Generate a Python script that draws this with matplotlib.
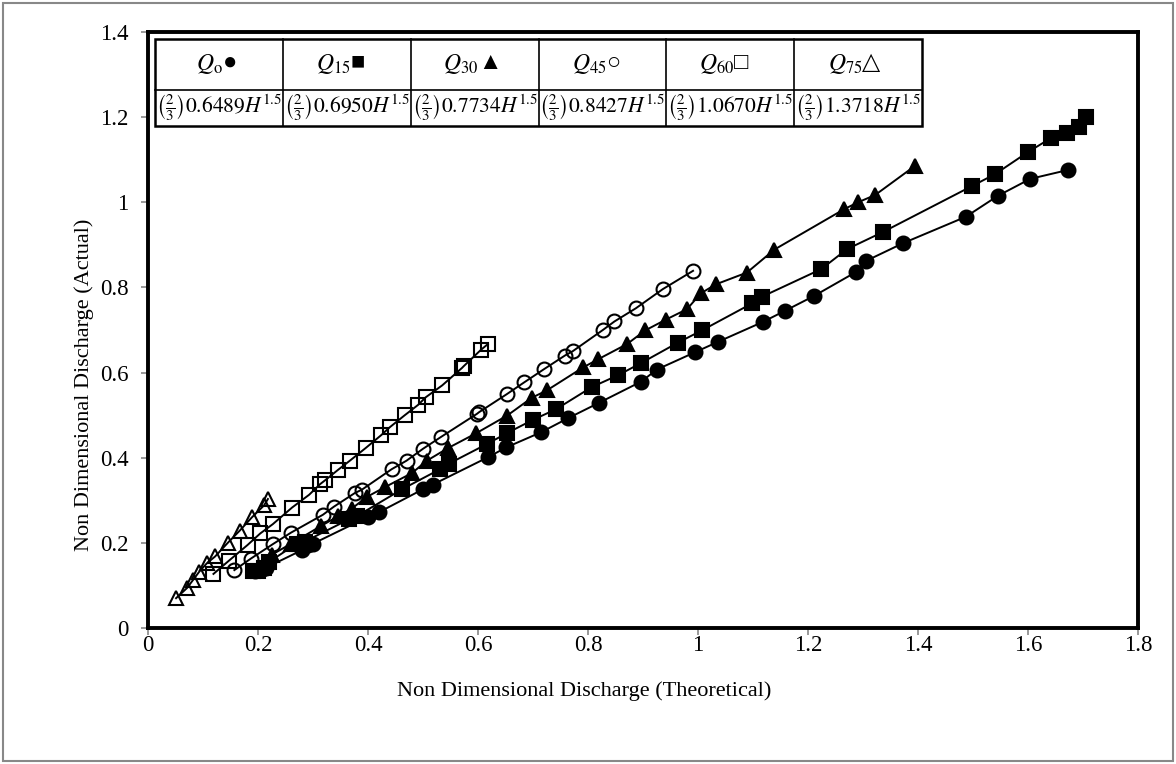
import matplotlib
matplotlib.use("Agg")
import matplotlib.pyplot as plt
from matplotlib.patches import Rectangle
from matplotlib.lines import Line2D

plt.rcParams['font.family'] = ['Liberation Serif', 'DejaVu Sans']
plt.rcParams['mathtext.fontset'] = 'stix'

# Q0 - filled circles
q0_x = [0.195, 0.205, 0.215, 0.28, 0.29, 0.30, 0.40, 0.42, 0.50, 0.518, 0.618, 0.651, 0.715, 0.764,
        0.82, 0.897, 0.925, 0.995, 1.036, 1.118, 1.158, 1.211, 1.287, 1.305, 1.373, 1.487, 1.545,
        1.604, 1.673]
q0_y = [0.133, 0.136, 0.142, 0.183, 0.195, 0.198, 0.261, 0.272, 0.326, 0.337, 0.401, 0.424, 0.460,
        0.493, 0.529, 0.579, 0.607, 0.648, 0.672, 0.719, 0.745, 0.780, 0.836, 0.862, 0.904, 0.966,
        1.015, 1.055, 1.076]

# Q15 - filled squares
q15_x = [0.19, 0.20, 0.21, 0.22, 0.27, 0.285, 0.365, 0.38, 0.462, 0.531, 0.547, 0.616, 0.653, 0.70,
         0.742, 0.807, 0.855, 0.896, 0.963, 1.007, 1.099, 1.116, 1.224, 1.271, 1.336, 1.498, 1.54,
         1.60, 1.642, 1.671, 1.693, 1.705]
q15_y = [0.133, 0.135, 0.140, 0.155, 0.198, 0.203, 0.255, 0.263, 0.326, 0.373, 0.386, 0.432, 0.458,
         0.489, 0.514, 0.566, 0.594, 0.622, 0.670, 0.699, 0.763, 0.778, 0.843, 0.890, 0.930, 1.038,
         1.066, 1.118, 1.151, 1.162, 1.177, 1.200]

# Q30 - filled triangles
q30_x = [0.225, 0.26, 0.315, 0.345, 0.37, 0.398, 0.431, 0.48, 0.507, 0.546, 0.596, 0.653, 0.698,
         0.725, 0.791, 0.818, 0.871, 0.904, 0.941, 0.98, 1.005, 1.032, 1.089, 1.139, 1.266, 1.291,
         1.322, 1.395]
q30_y = [0.172, 0.198, 0.24, 0.262, 0.28, 0.308, 0.331, 0.364, 0.393, 0.423, 0.457, 0.499, 0.541,
         0.558, 0.612, 0.631, 0.667, 0.699, 0.724, 0.749, 0.786, 0.807, 0.835, 0.889, 0.984, 1.0,
         1.017, 1.086]

# Q45 - open circles
q45_x = [0.157, 0.187, 0.227, 0.26, 0.318, 0.338, 0.376, 0.389, 0.443, 0.47, 0.5, 0.533, 0.598,
         0.602, 0.652, 0.684, 0.72, 0.758, 0.772, 0.827, 0.848, 0.887, 0.936, 0.991]
q45_y = [0.136, 0.163, 0.197, 0.224, 0.266, 0.285, 0.317, 0.325, 0.373, 0.393, 0.421, 0.449, 0.503,
         0.507, 0.549, 0.577, 0.608, 0.640, 0.650, 0.700, 0.720, 0.751, 0.796, 0.839]

# Q60 - open squares
q60_x = [0.119, 0.147, 0.181, 0.204, 0.227, 0.262, 0.293, 0.313, 0.322, 0.346, 0.367, 0.396, 0.424,
         0.44, 0.467, 0.491, 0.505, 0.535, 0.571, 0.574, 0.605, 0.618]
q60_y = [0.127, 0.158, 0.195, 0.222, 0.244, 0.283, 0.313, 0.338, 0.347, 0.372, 0.393, 0.423, 0.453,
         0.472, 0.500, 0.524, 0.542, 0.570, 0.611, 0.615, 0.653, 0.667]

# Q75 - open triangles
q75_x = [0.051, 0.071, 0.082, 0.093, 0.107, 0.122, 0.145, 0.167, 0.189, 0.211, 0.218]
q75_y = [0.070, 0.094, 0.113, 0.132, 0.152, 0.168, 0.200, 0.229, 0.260, 0.288, 0.303]

head_sub = ['o', '15', '30', '45', '60', '75']
head_sym = ['\u25cf', '\u25a0', '\u25b2', '\u25cb', '\u25a1', '\u25b3']
coefs = ['0.6489', '0.6950', '0.7734', '0.8427', '1.0670', '1.3718']

fig = plt.figure(figsize=(11.76, 7.64), dpi=100)
ax = fig.add_axes([148 / 1176, 1 - 628 / 764, 990 / 1176, 596 / 764])

series = [
    (q0_x, q0_y, 'o', 'black', 10),
    (q15_x, q15_y, 's', 'black', 9.5),
    (q30_x, q30_y, '^', 'black', 10.5),
    (q45_x, q45_y, 'o', 'none', 10),
    (q60_x, q60_y, 's', 'none', 10),
    (q75_x, q75_y, '^', 'none', 10.5),
]
for xs, ys, m, fc, ms in series:
    ax.plot(xs, ys, color='black', lw=1.4, marker=m, markersize=ms,
            markerfacecolor=fc, markeredgecolor='black', markeredgewidth=1.5, clip_on=False)

ax.set_xlim(0, 1.8)
ax.set_ylim(0, 1.4)
ax.set_xticks([0, 0.2, 0.4, 0.6, 0.8, 1, 1.2, 1.4, 1.6, 1.8])
ax.set_xticklabels(['0', '0.2', '0.4', '0.6', '0.8', '1', '1.2', '1.4', '1.6', '1.8'])
ax.set_yticks([0, 0.2, 0.4, 0.6, 0.8, 1, 1.2, 1.4])
ax.set_yticklabels(['0', '0.2', '0.4', '0.6', '0.8', '1', '1.2', '1.4'])
ax.tick_params(direction='out', length=5, width=1.2, color='#888888', labelsize=16.5)
ax.tick_params(axis='x', pad=0)
ax.tick_params(axis='y', pad=9)
for s in ax.spines.values():
    s.set_linewidth(2.8)
    s.set_color('black')

ax.set_xlabel('Non Dimensional Discharge (Theoretical)', fontsize=16)
ax.set_ylabel('Non Dimensional Discharge (Actual)', fontsize=16)
ax.xaxis.set_label_coords((584 - 148) / 990, (628 - 681) / 596)
ax.yaxis.set_label_coords((94 - 148) / 990, (628 - 385) / 596)

# table in upper left
tl, tr = (155 - 148) / 990, (922 - 148) / 990
tt, tm, tb = (628 - 39) / 596, (628 - 90) / 596, (628 - 126) / 596
tr_ = ax.transAxes
ax.add_patch(Rectangle((tl, tb), tr - tl, tt - tb, transform=tr_, facecolor='white',
                       edgecolor='black', lw=1.8, zorder=5, clip_on=False))
ax.add_line(Line2D([tl, tr], [tm, tm], transform=tr_, color='black', lw=1.2, zorder=6))
cw = (tr - tl) / 6
for i in range(6):
    if i > 0:
        ax.add_line(Line2D([tl + i * cw, tl + i * cw], [tb, tt], transform=tr_, color='black',
                           lw=1.2, zorder=6))
    cx = tl + (i + 0.5) * cw
    ax.text(cx + 0.004, (tt + tm) / 2, r'$Q_{\mathrm{%s}}$' % head_sub[i], transform=tr_,
            ha='right', va='center', fontsize=17, zorder=7)
    ax.text(cx + 0.004, (tt + tm) / 2 + 0.002, head_sym[i], transform=tr_, ha='left', va='center',
            fontsize=17, zorder=7)
    ax.text(cx, (tm + tb) / 2, r'$\left(\frac{2}{3}\right)\mathrm{%s}H^{1.5}$' % coefs[i],
            transform=tr_, ha='center', va='center', fontsize=15.5, zorder=7)

fig.patches.append(Rectangle((3 / 1176, 3 / 764), 1170 / 1176, 758 / 764, transform=fig.transFigure,
                             fill=False, edgecolor='#888888', lw=1.5))

fig.savefig('out.png', dpi=100)
